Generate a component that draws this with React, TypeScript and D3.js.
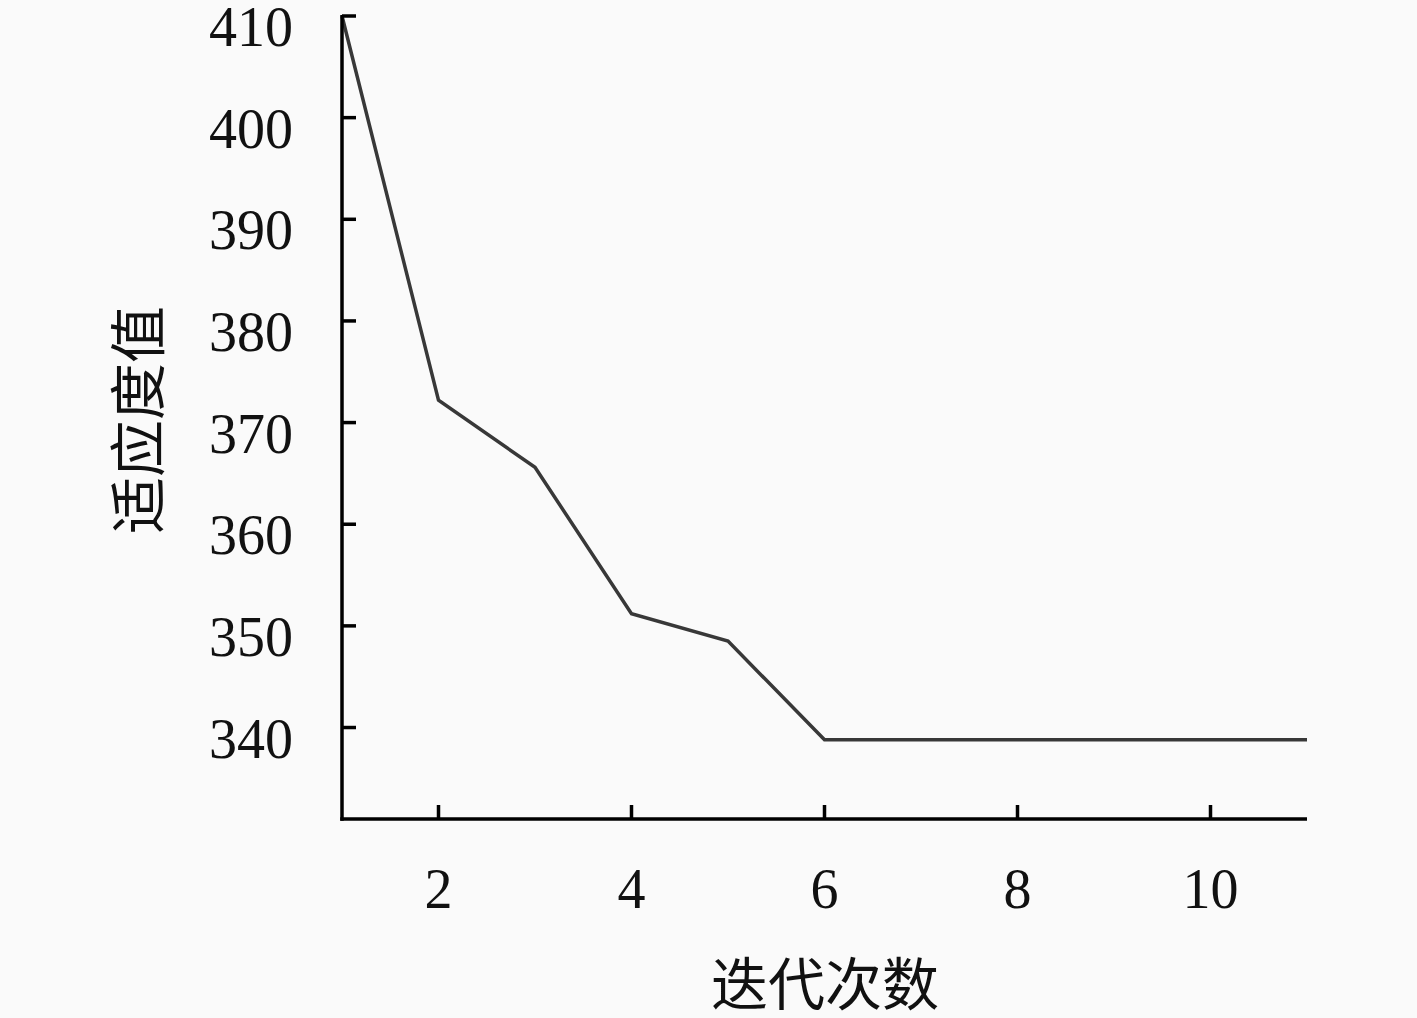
import * as d3 from "d3";
import { useEffect, useRef } from "react";

const iterations = [1, 2, 3, 4, 5, 6, 7, 8, 9, 10, 11];
const fitness = [410, 372.2, 365.6, 351.2, 348.5, 338.8, 338.8, 338.8, 338.8, 338.8, 338.8];
const yTicks = [340, 350, 360, 370, 380, 390, 400, 410];
const xTicks = [2, 4, 6, 8, 10];
const xTitle = "迭代次数";
const yTitle = "适应度值";

function App() {
  const ref = useRef<SVGSVGElement>(null);

  useEffect(() => {
    const width = 1417;
    const height = 1018;
    const svg = d3.select(ref.current);
    svg.selectAll("*").remove();

    svg.append("rect").attr("width", width).attr("height", height).attr("fill", "#fafafa");

    const x = d3.scaleLinear().domain([1, 11]).range([342, 1307]);
    const y = d3.scaleLinear().domain([331, 410]).range([819, 16]);

    const numFont = "'Liberation Serif', 'DejaVu Serif', serif";
    const cjkFont = "'Noto Sans CJK SC', sans-serif";

    // line
    const line = d3
      .line<number>()
      .x((_, i) => x(iterations[i]))
      .y((d) => y(d));
    svg
      .append("path")
      .datum(fitness)
      .attr("d", line)
      .attr("fill", "none")
      .attr("stroke", "#383838")
      .attr("stroke-width", 3.5)
      .attr("stroke-linejoin", "miter");

    // axes
    const axes = svg.append("g").attr("stroke", "#000").attr("stroke-width", 3.5);
    axes
      .append("line")
      .attr("x1", x(1))
      .attr("x2", x(1))
      .attr("y1", 15)
      .attr("y2", y(331) + 1.75);
    axes
      .append("line")
      .attr("x1", x(1) - 1.75)
      .attr("x2", x(11))
      .attr("y1", y(331))
      .attr("y2", y(331));

    axes
      .selectAll("line.yt")
      .data(yTicks)
      .join("line")
      .attr("class", "yt")
      .attr("x1", x(1))
      .attr("x2", x(1) + 14)
      .attr("y1", (d) => y(d))
      .attr("y2", (d) => y(d));

    axes
      .selectAll("line.xt")
      .data(xTicks)
      .join("line")
      .attr("class", "xt")
      .attr("x1", (d) => x(d))
      .attr("x2", (d) => x(d))
      .attr("y1", y(331))
      .attr("y2", y(331) - 14);

    // tick labels
    svg
      .append("g")
      .selectAll("text")
      .data(yTicks)
      .join("text")
      .attr("x", 293)
      .attr("y", (d) => y(d) + 11)
      .attr("text-anchor", "end")
      .attr("dominant-baseline", "central")
      .style("font-family", numFont)
      .style("font-size", "56px")
      .attr("fill", "#111")
      .text((d) => d);

    svg
      .append("g")
      .selectAll("text")
      .data(xTicks)
      .join("text")
      .attr("x", (d) => x(d))
      .attr("y", 889)
      .attr("text-anchor", "middle")
      .attr("dominant-baseline", "central")
      .style("font-family", numFont)
      .style("font-size", "56px")
      .attr("fill", "#111")
      .text((d) => d);

    // titles
    svg
      .append("text")
      .attr("x", 825)
      .attr("y", 980)
      .attr("text-anchor", "middle")
      .attr("dominant-baseline", "central")
      .style("font-family", cjkFont)
      .style("font-size", "57px")
      .attr("fill", "#111")
      .text(xTitle);

    svg
      .append("text")
      .attr("transform", "translate(134,420) rotate(-90)")
      .attr("text-anchor", "middle")
      .attr("dominant-baseline", "central")
      .style("font-family", cjkFont)
      .style("font-size", "57px")
      .attr("fill", "#111")
      .text(yTitle);
  }, []);

  return (
    <svg
      ref={ref}
      width={1417}
      height={1018}
      style={{ position: "absolute", left: 0, top: 0, display: "block" }}
    />
  );
}

export default App;
